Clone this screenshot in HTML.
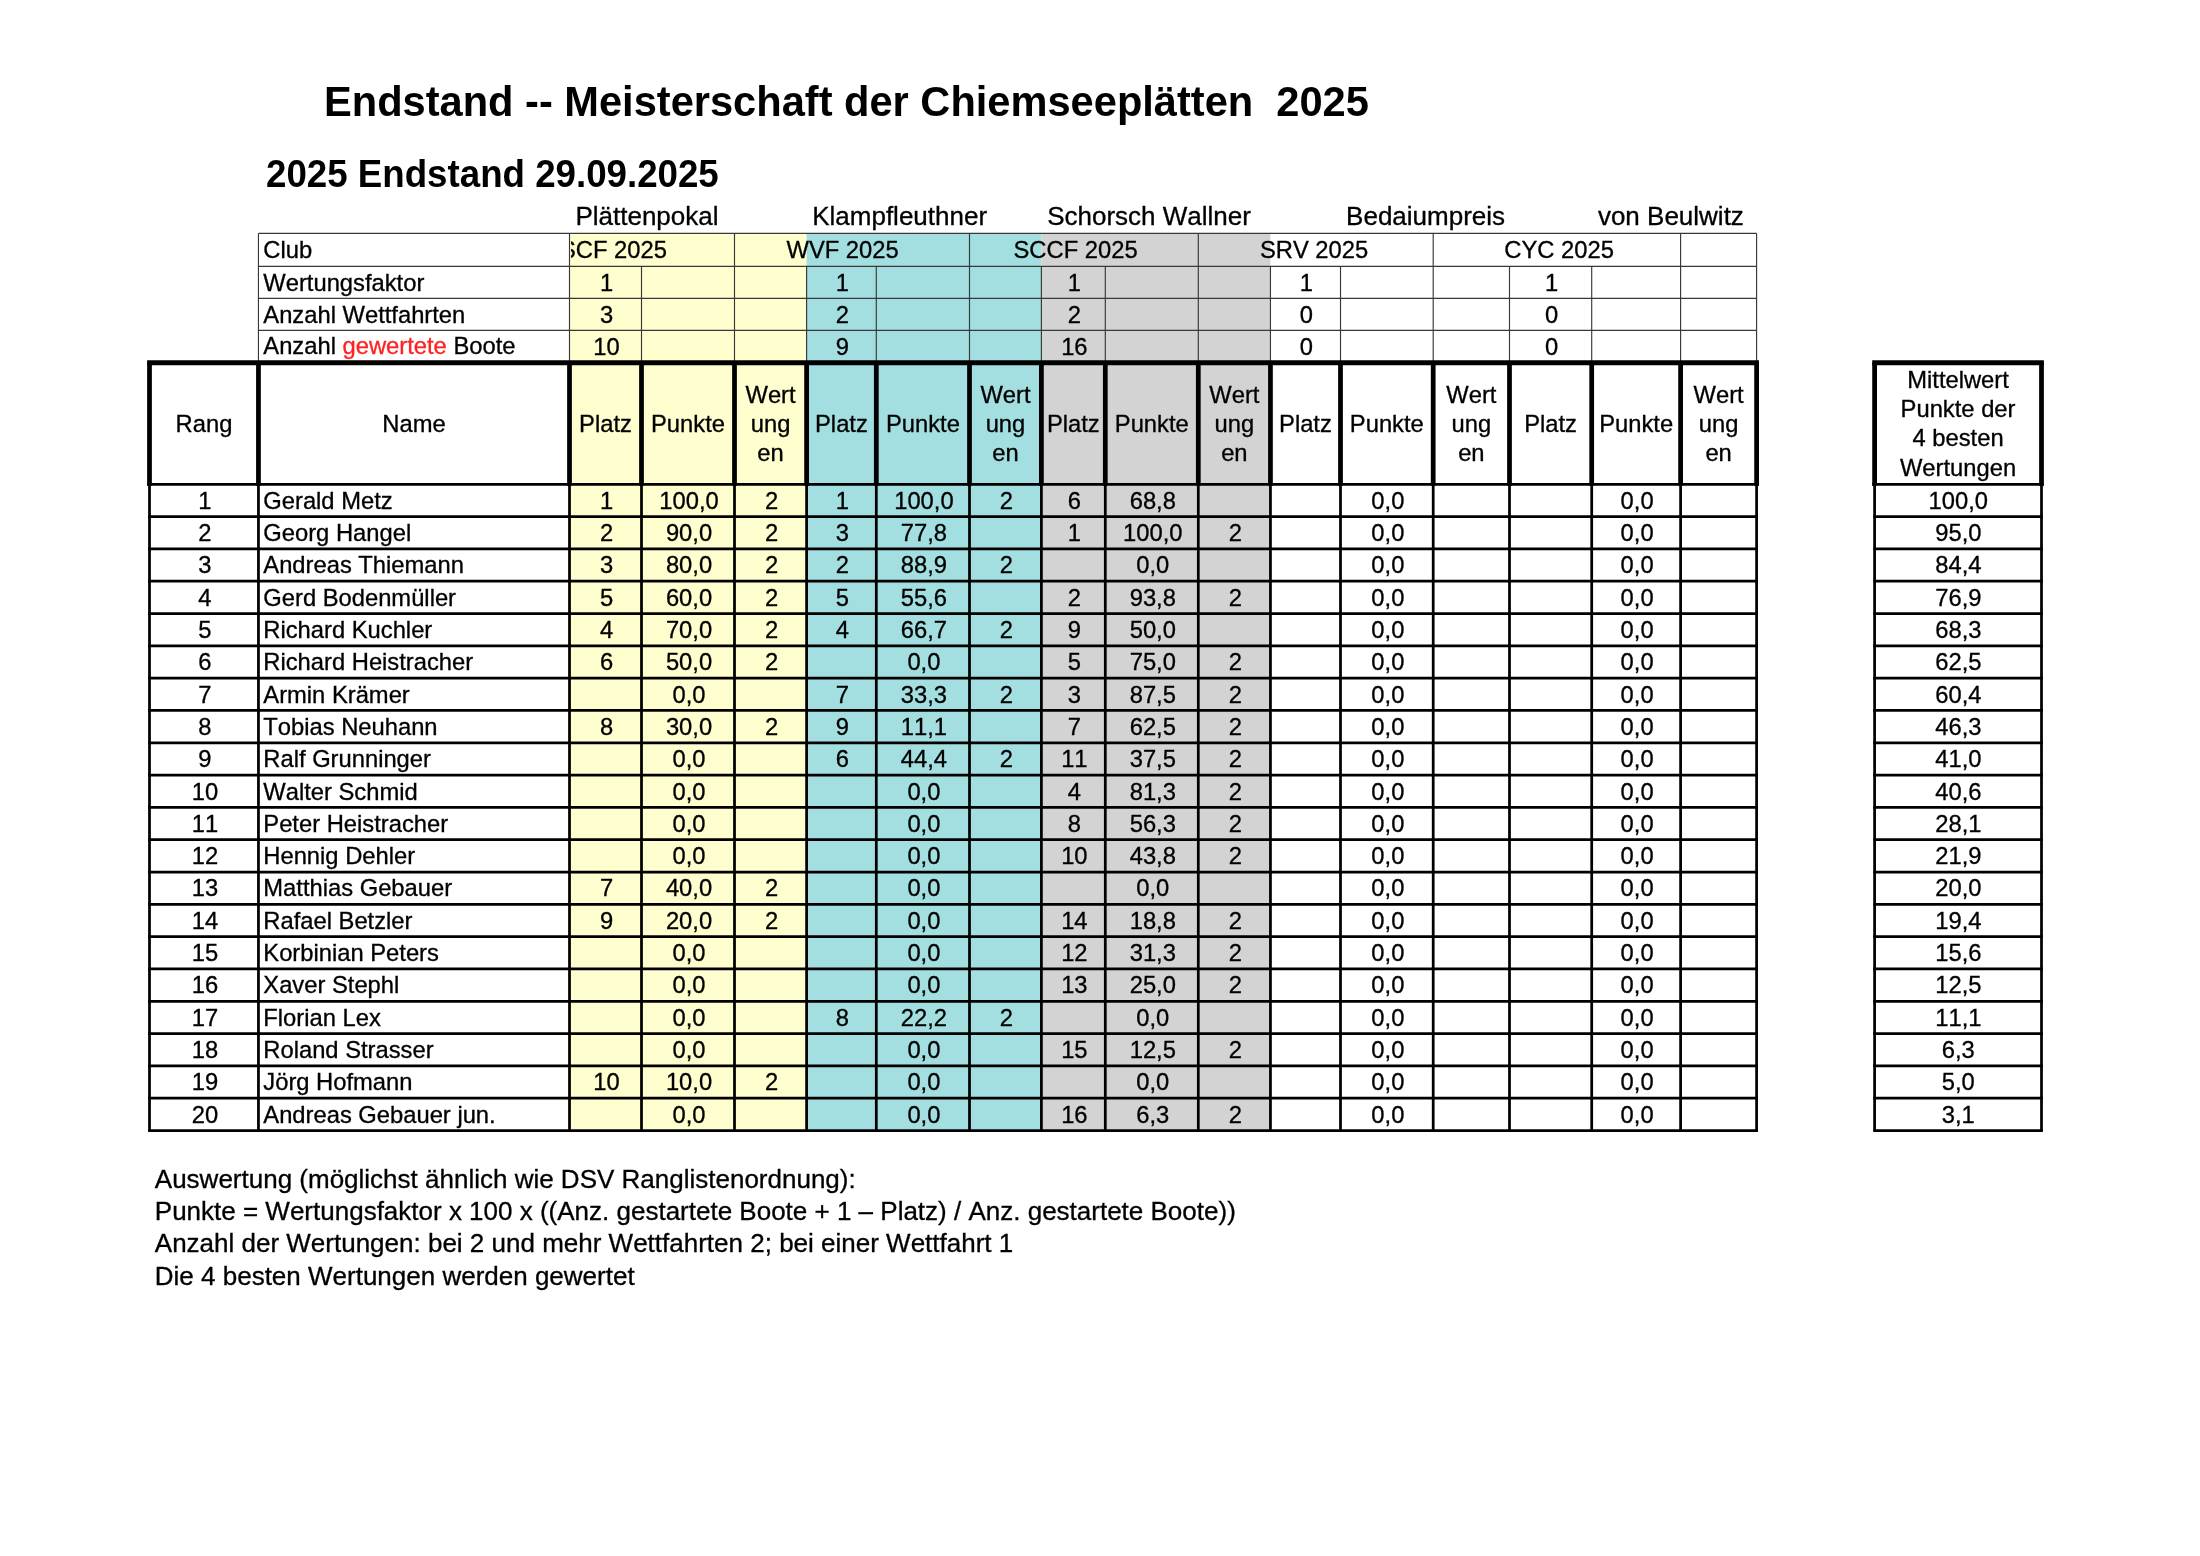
<!DOCTYPE html>
<html lang="de"><head><meta charset="utf-8"><title>Endstand Meisterschaft der Chiemseepl&auml;tten 2025</title>
<style>
html,body{margin:0;padding:0;background:#fff;}
body{width:2200px;height:1556px;position:relative;overflow:hidden;font-family:"Liberation Sans",sans-serif;color:#000;}
svg{position:absolute;left:0;top:0;}
.t{position:absolute;white-space:nowrap;font-kerning:none;-webkit-text-stroke:0.32px currentColor;}
#txt{position:absolute;left:0;top:0;width:2200px;height:1556px;will-change:transform;}
</style></head><body>
<svg width="2200" height="1556" viewBox="0 0 2200 1556">
<rect x="569.50" y="233.40" width="237.10" height="897.15" fill="#FFFECE"/>
<rect x="806.60" y="233.40" width="234.80" height="897.15" fill="#A3DFE0"/>
<rect x="1041.40" y="233.40" width="229.05" height="897.15" fill="#D3D3D3"/>
<line x1="258.45" y1="233.40" x2="1756.60" y2="233.40" stroke="#383838" stroke-width="1.15"/>
<line x1="258.45" y1="266.30" x2="1756.60" y2="266.30" stroke="#383838" stroke-width="1.15"/>
<line x1="258.45" y1="298.30" x2="1756.60" y2="298.30" stroke="#383838" stroke-width="1.15"/>
<line x1="258.45" y1="330.40" x2="1756.60" y2="330.40" stroke="#383838" stroke-width="1.15"/>
<line x1="258.45" y1="233.40" x2="258.45" y2="362.75" stroke="#383838" stroke-width="1.15"/>
<line x1="569.50" y1="233.40" x2="569.50" y2="362.75" stroke="#383838" stroke-width="1.15"/>
<line x1="641.50" y1="266.30" x2="641.50" y2="362.75" stroke="#383838" stroke-width="1.15"/>
<line x1="734.50" y1="233.40" x2="734.50" y2="362.75" stroke="#383838" stroke-width="1.15"/>
<line x1="806.60" y1="266.30" x2="806.60" y2="362.75" stroke="#383838" stroke-width="1.15"/>
<line x1="876.30" y1="266.30" x2="876.30" y2="362.75" stroke="#383838" stroke-width="1.15"/>
<line x1="969.50" y1="233.40" x2="969.50" y2="362.75" stroke="#383838" stroke-width="1.15"/>
<line x1="1041.40" y1="266.30" x2="1041.40" y2="362.75" stroke="#383838" stroke-width="1.15"/>
<line x1="1105.30" y1="266.30" x2="1105.30" y2="362.75" stroke="#383838" stroke-width="1.15"/>
<line x1="1198.30" y1="233.40" x2="1198.30" y2="362.75" stroke="#383838" stroke-width="1.15"/>
<line x1="1270.45" y1="266.30" x2="1270.45" y2="362.75" stroke="#383838" stroke-width="1.15"/>
<line x1="1340.50" y1="266.30" x2="1340.50" y2="362.75" stroke="#383838" stroke-width="1.15"/>
<line x1="1433.20" y1="233.40" x2="1433.20" y2="362.75" stroke="#383838" stroke-width="1.15"/>
<line x1="1509.50" y1="266.30" x2="1509.50" y2="362.75" stroke="#383838" stroke-width="1.15"/>
<line x1="1591.70" y1="266.30" x2="1591.70" y2="362.75" stroke="#383838" stroke-width="1.15"/>
<line x1="1680.60" y1="233.40" x2="1680.60" y2="362.75" stroke="#383838" stroke-width="1.15"/>
<line x1="1756.60" y1="233.40" x2="1756.60" y2="362.75" stroke="#383838" stroke-width="1.15"/>
<line x1="148.12" y1="516.60" x2="1757.97" y2="516.60" stroke="#000" stroke-width="2.75"/>
<line x1="1873.22" y1="516.60" x2="2042.88" y2="516.60" stroke="#000" stroke-width="2.75"/>
<line x1="148.12" y1="548.92" x2="1757.97" y2="548.92" stroke="#000" stroke-width="2.75"/>
<line x1="1873.22" y1="548.92" x2="2042.88" y2="548.92" stroke="#000" stroke-width="2.75"/>
<line x1="148.12" y1="581.23" x2="1757.97" y2="581.23" stroke="#000" stroke-width="2.75"/>
<line x1="1873.22" y1="581.23" x2="2042.88" y2="581.23" stroke="#000" stroke-width="2.75"/>
<line x1="148.12" y1="613.54" x2="1757.97" y2="613.54" stroke="#000" stroke-width="2.75"/>
<line x1="1873.22" y1="613.54" x2="2042.88" y2="613.54" stroke="#000" stroke-width="2.75"/>
<line x1="148.12" y1="645.86" x2="1757.97" y2="645.86" stroke="#000" stroke-width="2.75"/>
<line x1="1873.22" y1="645.86" x2="2042.88" y2="645.86" stroke="#000" stroke-width="2.75"/>
<line x1="148.12" y1="678.17" x2="1757.97" y2="678.17" stroke="#000" stroke-width="2.75"/>
<line x1="1873.22" y1="678.17" x2="2042.88" y2="678.17" stroke="#000" stroke-width="2.75"/>
<line x1="148.12" y1="710.48" x2="1757.97" y2="710.48" stroke="#000" stroke-width="2.75"/>
<line x1="1873.22" y1="710.48" x2="2042.88" y2="710.48" stroke="#000" stroke-width="2.75"/>
<line x1="148.12" y1="742.79" x2="1757.97" y2="742.79" stroke="#000" stroke-width="2.75"/>
<line x1="1873.22" y1="742.79" x2="2042.88" y2="742.79" stroke="#000" stroke-width="2.75"/>
<line x1="148.12" y1="775.11" x2="1757.97" y2="775.11" stroke="#000" stroke-width="2.75"/>
<line x1="1873.22" y1="775.11" x2="2042.88" y2="775.11" stroke="#000" stroke-width="2.75"/>
<line x1="148.12" y1="807.42" x2="1757.97" y2="807.42" stroke="#000" stroke-width="2.75"/>
<line x1="1873.22" y1="807.42" x2="2042.88" y2="807.42" stroke="#000" stroke-width="2.75"/>
<line x1="148.12" y1="839.73" x2="1757.97" y2="839.73" stroke="#000" stroke-width="2.75"/>
<line x1="1873.22" y1="839.73" x2="2042.88" y2="839.73" stroke="#000" stroke-width="2.75"/>
<line x1="148.12" y1="872.05" x2="1757.97" y2="872.05" stroke="#000" stroke-width="2.75"/>
<line x1="1873.22" y1="872.05" x2="2042.88" y2="872.05" stroke="#000" stroke-width="2.75"/>
<line x1="148.12" y1="904.36" x2="1757.97" y2="904.36" stroke="#000" stroke-width="2.75"/>
<line x1="1873.22" y1="904.36" x2="2042.88" y2="904.36" stroke="#000" stroke-width="2.75"/>
<line x1="148.12" y1="936.67" x2="1757.97" y2="936.67" stroke="#000" stroke-width="2.75"/>
<line x1="1873.22" y1="936.67" x2="2042.88" y2="936.67" stroke="#000" stroke-width="2.75"/>
<line x1="148.12" y1="968.99" x2="1757.97" y2="968.99" stroke="#000" stroke-width="2.75"/>
<line x1="1873.22" y1="968.99" x2="2042.88" y2="968.99" stroke="#000" stroke-width="2.75"/>
<line x1="148.12" y1="1001.30" x2="1757.97" y2="1001.30" stroke="#000" stroke-width="2.75"/>
<line x1="1873.22" y1="1001.30" x2="2042.88" y2="1001.30" stroke="#000" stroke-width="2.75"/>
<line x1="148.12" y1="1033.61" x2="1757.97" y2="1033.61" stroke="#000" stroke-width="2.75"/>
<line x1="1873.22" y1="1033.61" x2="2042.88" y2="1033.61" stroke="#000" stroke-width="2.75"/>
<line x1="148.12" y1="1065.92" x2="1757.97" y2="1065.92" stroke="#000" stroke-width="2.75"/>
<line x1="1873.22" y1="1065.92" x2="2042.88" y2="1065.92" stroke="#000" stroke-width="2.75"/>
<line x1="148.12" y1="1098.24" x2="1757.97" y2="1098.24" stroke="#000" stroke-width="2.75"/>
<line x1="1873.22" y1="1098.24" x2="2042.88" y2="1098.24" stroke="#000" stroke-width="2.75"/>
<line x1="148.12" y1="1130.55" x2="1757.97" y2="1130.55" stroke="#000" stroke-width="2.75"/>
<line x1="1873.22" y1="1130.55" x2="2042.88" y2="1130.55" stroke="#000" stroke-width="2.75"/>
<line x1="149.50" y1="484.29" x2="149.50" y2="1130.55" stroke="#000" stroke-width="2.75"/>
<line x1="258.45" y1="484.29" x2="258.45" y2="1130.55" stroke="#000" stroke-width="2.75"/>
<line x1="569.50" y1="484.29" x2="569.50" y2="1130.55" stroke="#000" stroke-width="2.75"/>
<line x1="641.50" y1="484.29" x2="641.50" y2="1130.55" stroke="#000" stroke-width="2.75"/>
<line x1="734.50" y1="484.29" x2="734.50" y2="1130.55" stroke="#000" stroke-width="2.75"/>
<line x1="806.60" y1="484.29" x2="806.60" y2="1130.55" stroke="#000" stroke-width="2.75"/>
<line x1="876.30" y1="484.29" x2="876.30" y2="1130.55" stroke="#000" stroke-width="2.75"/>
<line x1="969.50" y1="484.29" x2="969.50" y2="1130.55" stroke="#000" stroke-width="2.75"/>
<line x1="1041.40" y1="484.29" x2="1041.40" y2="1130.55" stroke="#000" stroke-width="2.75"/>
<line x1="1105.30" y1="484.29" x2="1105.30" y2="1130.55" stroke="#000" stroke-width="2.75"/>
<line x1="1198.30" y1="484.29" x2="1198.30" y2="1130.55" stroke="#000" stroke-width="2.75"/>
<line x1="1270.45" y1="484.29" x2="1270.45" y2="1130.55" stroke="#000" stroke-width="2.75"/>
<line x1="1340.50" y1="484.29" x2="1340.50" y2="1130.55" stroke="#000" stroke-width="2.75"/>
<line x1="1433.20" y1="484.29" x2="1433.20" y2="1130.55" stroke="#000" stroke-width="2.75"/>
<line x1="1509.50" y1="484.29" x2="1509.50" y2="1130.55" stroke="#000" stroke-width="2.75"/>
<line x1="1591.70" y1="484.29" x2="1591.70" y2="1130.55" stroke="#000" stroke-width="2.75"/>
<line x1="1680.60" y1="484.29" x2="1680.60" y2="1130.55" stroke="#000" stroke-width="2.75"/>
<line x1="1756.60" y1="484.29" x2="1756.60" y2="1130.55" stroke="#000" stroke-width="2.75"/>
<line x1="1874.60" y1="484.29" x2="1874.60" y2="1130.55" stroke="#000" stroke-width="2.75"/>
<line x1="2041.50" y1="484.29" x2="2041.50" y2="1130.55" stroke="#000" stroke-width="2.75"/>
<line x1="147.10" y1="484.29" x2="1759.00" y2="484.29" stroke="#000" stroke-width="2.75"/>
<line x1="1872.20" y1="484.29" x2="2043.90" y2="484.29" stroke="#000" stroke-width="2.75"/>
<line x1="147.12" y1="362.75" x2="1758.97" y2="362.75" stroke="#000" stroke-width="5.2"/>
<line x1="1872.22" y1="362.75" x2="2043.88" y2="362.75" stroke="#000" stroke-width="5.2"/>
<line x1="149.50" y1="362.75" x2="149.50" y2="485.67" stroke="#000" stroke-width="4.75"/>
<line x1="258.45" y1="362.75" x2="258.45" y2="485.67" stroke="#000" stroke-width="4.75"/>
<line x1="569.50" y1="362.75" x2="569.50" y2="485.67" stroke="#000" stroke-width="4.75"/>
<line x1="641.50" y1="362.75" x2="641.50" y2="485.67" stroke="#000" stroke-width="4.75"/>
<line x1="734.50" y1="362.75" x2="734.50" y2="485.67" stroke="#000" stroke-width="4.75"/>
<line x1="806.60" y1="362.75" x2="806.60" y2="485.67" stroke="#000" stroke-width="4.75"/>
<line x1="876.30" y1="362.75" x2="876.30" y2="485.67" stroke="#000" stroke-width="4.75"/>
<line x1="969.50" y1="362.75" x2="969.50" y2="485.67" stroke="#000" stroke-width="4.75"/>
<line x1="1041.40" y1="362.75" x2="1041.40" y2="485.67" stroke="#000" stroke-width="4.75"/>
<line x1="1105.30" y1="362.75" x2="1105.30" y2="485.67" stroke="#000" stroke-width="4.75"/>
<line x1="1198.30" y1="362.75" x2="1198.30" y2="485.67" stroke="#000" stroke-width="4.75"/>
<line x1="1270.45" y1="362.75" x2="1270.45" y2="485.67" stroke="#000" stroke-width="4.75"/>
<line x1="1340.50" y1="362.75" x2="1340.50" y2="485.67" stroke="#000" stroke-width="4.75"/>
<line x1="1433.20" y1="362.75" x2="1433.20" y2="485.67" stroke="#000" stroke-width="4.75"/>
<line x1="1509.50" y1="362.75" x2="1509.50" y2="485.67" stroke="#000" stroke-width="4.75"/>
<line x1="1591.70" y1="362.75" x2="1591.70" y2="485.67" stroke="#000" stroke-width="4.75"/>
<line x1="1680.60" y1="362.75" x2="1680.60" y2="485.67" stroke="#000" stroke-width="4.75"/>
<line x1="1756.60" y1="362.75" x2="1756.60" y2="485.67" stroke="#000" stroke-width="4.75"/>
<line x1="1874.60" y1="362.75" x2="1874.60" y2="485.67" stroke="#000" stroke-width="4.75"/>
<line x1="2041.50" y1="362.75" x2="2041.50" y2="485.67" stroke="#000" stroke-width="4.75"/>
</svg>
<div id="txt">
<div class="t" style="top:73px;font-size:43.0px;line-height:56px;left:324.20px;font-weight:bold;transform:scaleX(0.9674);transform-origin:0 0;-webkit-text-stroke:0;">Endstand -- Meisterschaft der Chiemseepl&auml;tten&nbsp; 2025</div>
<div class="t" style="top:150px;font-size:37.9px;line-height:49px;left:265.90px;font-weight:bold;transform:scaleX(0.9683);transform-origin:0 0;-webkit-text-stroke:0;">2025 Endstand 29.09.2025</div>
<div class="t" style="top:199px;font-size:26.0px;line-height:34px;left:575.40px;">Pl&auml;ttenpokal</div>
<div class="t" style="top:199px;font-size:26.0px;line-height:34px;left:812.20px;">Klampfleuthner</div>
<div class="t" style="top:199px;font-size:26.0px;line-height:34px;left:1047.20px;">Schorsch Wallner</div>
<div class="t" style="top:199px;font-size:26.0px;line-height:34px;left:1346.10px;">Bedaiumpreis</div>
<div class="t" style="top:199px;font-size:26.0px;line-height:34px;left:1597.90px;">von Beulwitz</div>
<div class="t" style="top:234px;font-size:23.75px;line-height:31px;left:263.30px;">Club</div>
<div class="t" style="top:267px;font-size:23.75px;line-height:31px;left:263.30px;">Wertungsfaktor</div>
<div class="t" style="top:299px;font-size:23.75px;line-height:31px;left:263.30px;">Anzahl Wettfahrten</div>
<div class="t" style="top:330px;font-size:23.75px;line-height:31px;left:263.30px;">Anzahl <span style="color:#ff2222">gewertete</span> Boote</div>
<div class="t" style="top:234px;font-size:23.75px;line-height:31px;left:786.50px;">WVF 2025</div>
<div class="t" style="top:234px;font-size:23.75px;line-height:31px;left:1013.50px;">SCCF 2025</div>
<div class="t" style="top:234px;font-size:23.75px;line-height:31px;left:1259.90px;">SRV 2025</div>
<div class="t" style="top:234px;font-size:23.75px;line-height:31px;left:1504.30px;">CYC 2025</div>
<div class="t" style="left:570.80px;top:234px;width:96.10px;height:31px;overflow:hidden;font-size:23.75px;line-height:31px;"><span style="position:absolute;right:0;top:0;">SCF 2025</span></div>
<div class="t" style="top:267px;font-size:23.75px;line-height:31px;left:570.50px;width:72.00px;text-align:center;">1</div>
<div class="t" style="top:299px;font-size:23.75px;line-height:31px;left:570.50px;width:72.00px;text-align:center;">3</div>
<div class="t" style="top:331px;font-size:23.75px;line-height:31px;left:570.50px;width:72.00px;text-align:center;">10</div>
<div class="t" style="top:267px;font-size:23.75px;line-height:31px;left:807.60px;width:69.70px;text-align:center;">1</div>
<div class="t" style="top:299px;font-size:23.75px;line-height:31px;left:807.60px;width:69.70px;text-align:center;">2</div>
<div class="t" style="top:331px;font-size:23.75px;line-height:31px;left:807.60px;width:69.70px;text-align:center;">9</div>
<div class="t" style="top:267px;font-size:23.75px;line-height:31px;left:1042.40px;width:63.90px;text-align:center;">1</div>
<div class="t" style="top:299px;font-size:23.75px;line-height:31px;left:1042.40px;width:63.90px;text-align:center;">2</div>
<div class="t" style="top:331px;font-size:23.75px;line-height:31px;left:1042.40px;width:63.90px;text-align:center;">16</div>
<div class="t" style="top:267px;font-size:23.75px;line-height:31px;left:1271.45px;width:70.05px;text-align:center;">1</div>
<div class="t" style="top:299px;font-size:23.75px;line-height:31px;left:1271.45px;width:70.05px;text-align:center;">0</div>
<div class="t" style="top:331px;font-size:23.75px;line-height:31px;left:1271.45px;width:70.05px;text-align:center;">0</div>
<div class="t" style="top:267px;font-size:23.75px;line-height:31px;left:1510.50px;width:82.20px;text-align:center;">1</div>
<div class="t" style="top:299px;font-size:23.75px;line-height:31px;left:1510.50px;width:82.20px;text-align:center;">0</div>
<div class="t" style="top:331px;font-size:23.75px;line-height:31px;left:1510.50px;width:82.20px;text-align:center;">0</div>
<div class="t" style="top:408px;font-size:23.75px;line-height:31px;left:149.50px;width:108.95px;text-align:center;">Rang</div>
<div class="t" style="top:408px;font-size:23.75px;line-height:31px;left:258.45px;width:311.05px;text-align:center;">Name</div>
<div class="t" style="top:408px;font-size:23.75px;line-height:31px;left:559.50px;width:92.00px;text-align:center;">Platz</div>
<div class="t" style="top:408px;font-size:23.75px;line-height:31px;left:631.50px;width:113.00px;text-align:center;">Punkte</div>
<div class="t" style="top:379px;font-size:23.75px;line-height:31px;left:734.50px;width:72.10px;text-align:center;">Wert</div>
<div class="t" style="top:408px;font-size:23.75px;line-height:31px;left:734.50px;width:72.10px;text-align:center;">ung</div>
<div class="t" style="top:437px;font-size:23.75px;line-height:31px;left:734.50px;width:72.10px;text-align:center;">en</div>
<div class="t" style="top:408px;font-size:23.75px;line-height:31px;left:796.60px;width:89.70px;text-align:center;">Platz</div>
<div class="t" style="top:408px;font-size:23.75px;line-height:31px;left:866.30px;width:113.20px;text-align:center;">Punkte</div>
<div class="t" style="top:379px;font-size:23.75px;line-height:31px;left:969.50px;width:71.90px;text-align:center;">Wert</div>
<div class="t" style="top:408px;font-size:23.75px;line-height:31px;left:969.50px;width:71.90px;text-align:center;">ung</div>
<div class="t" style="top:437px;font-size:23.75px;line-height:31px;left:969.50px;width:71.90px;text-align:center;">en</div>
<div class="t" style="top:408px;font-size:23.75px;line-height:31px;left:1031.40px;width:83.90px;text-align:center;">Platz</div>
<div class="t" style="top:408px;font-size:23.75px;line-height:31px;left:1095.30px;width:113.00px;text-align:center;">Punkte</div>
<div class="t" style="top:379px;font-size:23.75px;line-height:31px;left:1198.30px;width:72.15px;text-align:center;">Wert</div>
<div class="t" style="top:408px;font-size:23.75px;line-height:31px;left:1198.30px;width:72.15px;text-align:center;">ung</div>
<div class="t" style="top:437px;font-size:23.75px;line-height:31px;left:1198.30px;width:72.15px;text-align:center;">en</div>
<div class="t" style="top:408px;font-size:23.75px;line-height:31px;left:1260.45px;width:90.05px;text-align:center;">Platz</div>
<div class="t" style="top:408px;font-size:23.75px;line-height:31px;left:1330.50px;width:112.70px;text-align:center;">Punkte</div>
<div class="t" style="top:379px;font-size:23.75px;line-height:31px;left:1433.20px;width:76.30px;text-align:center;">Wert</div>
<div class="t" style="top:408px;font-size:23.75px;line-height:31px;left:1433.20px;width:76.30px;text-align:center;">ung</div>
<div class="t" style="top:437px;font-size:23.75px;line-height:31px;left:1433.20px;width:76.30px;text-align:center;">en</div>
<div class="t" style="top:408px;font-size:23.75px;line-height:31px;left:1499.50px;width:102.20px;text-align:center;">Platz</div>
<div class="t" style="top:408px;font-size:23.75px;line-height:31px;left:1581.70px;width:108.90px;text-align:center;">Punkte</div>
<div class="t" style="top:379px;font-size:23.75px;line-height:31px;left:1680.60px;width:76.00px;text-align:center;">Wert</div>
<div class="t" style="top:408px;font-size:23.75px;line-height:31px;left:1680.60px;width:76.00px;text-align:center;">ung</div>
<div class="t" style="top:437px;font-size:23.75px;line-height:31px;left:1680.60px;width:76.00px;text-align:center;">en</div>
<div class="t" style="top:364px;font-size:23.75px;line-height:31px;left:1874.60px;width:166.90px;text-align:center;">Mittelwert</div>
<div class="t" style="top:393px;font-size:23.75px;line-height:31px;left:1874.60px;width:166.90px;text-align:center;">Punkte der</div>
<div class="t" style="top:422px;font-size:23.75px;line-height:31px;left:1874.60px;width:166.90px;text-align:center;">4 besten</div>
<div class="t" style="top:452px;font-size:23.75px;line-height:31px;left:1874.60px;width:166.90px;text-align:center;">Wertungen</div>
<div class="t" style="top:485px;font-size:23.75px;line-height:31px;left:150.50px;width:108.95px;text-align:center;">1</div>
<div class="t" style="top:485px;font-size:23.75px;line-height:31px;left:263.30px;">Gerald Metz</div>
<div class="t" style="top:485px;font-size:23.75px;line-height:31px;left:570.50px;width:72.00px;text-align:center;">1</div>
<div class="t" style="top:485px;font-size:23.75px;line-height:31px;left:642.50px;width:93.00px;text-align:center;">100,0</div>
<div class="t" style="top:485px;font-size:23.75px;line-height:31px;left:735.50px;width:72.10px;text-align:center;">2</div>
<div class="t" style="top:485px;font-size:23.75px;line-height:31px;left:807.60px;width:69.70px;text-align:center;">1</div>
<div class="t" style="top:485px;font-size:23.75px;line-height:31px;left:877.30px;width:93.20px;text-align:center;">100,0</div>
<div class="t" style="top:485px;font-size:23.75px;line-height:31px;left:970.50px;width:71.90px;text-align:center;">2</div>
<div class="t" style="top:485px;font-size:23.75px;line-height:31px;left:1042.40px;width:63.90px;text-align:center;">6</div>
<div class="t" style="top:485px;font-size:23.75px;line-height:31px;left:1106.30px;width:93.00px;text-align:center;">68,8</div>
<div class="t" style="top:485px;font-size:23.75px;line-height:31px;left:1341.50px;width:92.70px;text-align:center;">0,0</div>
<div class="t" style="top:485px;font-size:23.75px;line-height:31px;left:1592.70px;width:88.90px;text-align:center;">0,0</div>
<div class="t" style="top:485px;font-size:23.75px;line-height:31px;left:1874.90px;width:166.90px;text-align:center;">100,0</div>
<div class="t" style="top:517px;font-size:23.75px;line-height:31px;left:150.50px;width:108.95px;text-align:center;">2</div>
<div class="t" style="top:517px;font-size:23.75px;line-height:31px;left:263.30px;">Georg Hangel</div>
<div class="t" style="top:517px;font-size:23.75px;line-height:31px;left:570.50px;width:72.00px;text-align:center;">2</div>
<div class="t" style="top:517px;font-size:23.75px;line-height:31px;left:642.50px;width:93.00px;text-align:center;">90,0</div>
<div class="t" style="top:517px;font-size:23.75px;line-height:31px;left:735.50px;width:72.10px;text-align:center;">2</div>
<div class="t" style="top:517px;font-size:23.75px;line-height:31px;left:807.60px;width:69.70px;text-align:center;">3</div>
<div class="t" style="top:517px;font-size:23.75px;line-height:31px;left:877.30px;width:93.20px;text-align:center;">77,8</div>
<div class="t" style="top:517px;font-size:23.75px;line-height:31px;left:1042.40px;width:63.90px;text-align:center;">1</div>
<div class="t" style="top:517px;font-size:23.75px;line-height:31px;left:1106.30px;width:93.00px;text-align:center;">100,0</div>
<div class="t" style="top:517px;font-size:23.75px;line-height:31px;left:1199.30px;width:72.15px;text-align:center;">2</div>
<div class="t" style="top:517px;font-size:23.75px;line-height:31px;left:1341.50px;width:92.70px;text-align:center;">0,0</div>
<div class="t" style="top:517px;font-size:23.75px;line-height:31px;left:1592.70px;width:88.90px;text-align:center;">0,0</div>
<div class="t" style="top:517px;font-size:23.75px;line-height:31px;left:1874.90px;width:166.90px;text-align:center;">95,0</div>
<div class="t" style="top:549px;font-size:23.75px;line-height:31px;left:150.50px;width:108.95px;text-align:center;">3</div>
<div class="t" style="top:549px;font-size:23.75px;line-height:31px;left:263.30px;">Andreas Thiemann</div>
<div class="t" style="top:549px;font-size:23.75px;line-height:31px;left:570.50px;width:72.00px;text-align:center;">3</div>
<div class="t" style="top:549px;font-size:23.75px;line-height:31px;left:642.50px;width:93.00px;text-align:center;">80,0</div>
<div class="t" style="top:549px;font-size:23.75px;line-height:31px;left:735.50px;width:72.10px;text-align:center;">2</div>
<div class="t" style="top:549px;font-size:23.75px;line-height:31px;left:807.60px;width:69.70px;text-align:center;">2</div>
<div class="t" style="top:549px;font-size:23.75px;line-height:31px;left:877.30px;width:93.20px;text-align:center;">88,9</div>
<div class="t" style="top:549px;font-size:23.75px;line-height:31px;left:970.50px;width:71.90px;text-align:center;">2</div>
<div class="t" style="top:549px;font-size:23.75px;line-height:31px;left:1106.30px;width:93.00px;text-align:center;">0,0</div>
<div class="t" style="top:549px;font-size:23.75px;line-height:31px;left:1341.50px;width:92.70px;text-align:center;">0,0</div>
<div class="t" style="top:549px;font-size:23.75px;line-height:31px;left:1592.70px;width:88.90px;text-align:center;">0,0</div>
<div class="t" style="top:549px;font-size:23.75px;line-height:31px;left:1874.90px;width:166.90px;text-align:center;">84,4</div>
<div class="t" style="top:582px;font-size:23.75px;line-height:31px;left:150.50px;width:108.95px;text-align:center;">4</div>
<div class="t" style="top:582px;font-size:23.75px;line-height:31px;left:263.30px;">Gerd Bodenm&uuml;ller</div>
<div class="t" style="top:582px;font-size:23.75px;line-height:31px;left:570.50px;width:72.00px;text-align:center;">5</div>
<div class="t" style="top:582px;font-size:23.75px;line-height:31px;left:642.50px;width:93.00px;text-align:center;">60,0</div>
<div class="t" style="top:582px;font-size:23.75px;line-height:31px;left:735.50px;width:72.10px;text-align:center;">2</div>
<div class="t" style="top:582px;font-size:23.75px;line-height:31px;left:807.60px;width:69.70px;text-align:center;">5</div>
<div class="t" style="top:582px;font-size:23.75px;line-height:31px;left:877.30px;width:93.20px;text-align:center;">55,6</div>
<div class="t" style="top:582px;font-size:23.75px;line-height:31px;left:1042.40px;width:63.90px;text-align:center;">2</div>
<div class="t" style="top:582px;font-size:23.75px;line-height:31px;left:1106.30px;width:93.00px;text-align:center;">93,8</div>
<div class="t" style="top:582px;font-size:23.75px;line-height:31px;left:1199.30px;width:72.15px;text-align:center;">2</div>
<div class="t" style="top:582px;font-size:23.75px;line-height:31px;left:1341.50px;width:92.70px;text-align:center;">0,0</div>
<div class="t" style="top:582px;font-size:23.75px;line-height:31px;left:1592.70px;width:88.90px;text-align:center;">0,0</div>
<div class="t" style="top:582px;font-size:23.75px;line-height:31px;left:1874.90px;width:166.90px;text-align:center;">76,9</div>
<div class="t" style="top:614px;font-size:23.75px;line-height:31px;left:150.50px;width:108.95px;text-align:center;">5</div>
<div class="t" style="top:614px;font-size:23.75px;line-height:31px;left:263.30px;">Richard Kuchler</div>
<div class="t" style="top:614px;font-size:23.75px;line-height:31px;left:570.50px;width:72.00px;text-align:center;">4</div>
<div class="t" style="top:614px;font-size:23.75px;line-height:31px;left:642.50px;width:93.00px;text-align:center;">70,0</div>
<div class="t" style="top:614px;font-size:23.75px;line-height:31px;left:735.50px;width:72.10px;text-align:center;">2</div>
<div class="t" style="top:614px;font-size:23.75px;line-height:31px;left:807.60px;width:69.70px;text-align:center;">4</div>
<div class="t" style="top:614px;font-size:23.75px;line-height:31px;left:877.30px;width:93.20px;text-align:center;">66,7</div>
<div class="t" style="top:614px;font-size:23.75px;line-height:31px;left:970.50px;width:71.90px;text-align:center;">2</div>
<div class="t" style="top:614px;font-size:23.75px;line-height:31px;left:1042.40px;width:63.90px;text-align:center;">9</div>
<div class="t" style="top:614px;font-size:23.75px;line-height:31px;left:1106.30px;width:93.00px;text-align:center;">50,0</div>
<div class="t" style="top:614px;font-size:23.75px;line-height:31px;left:1341.50px;width:92.70px;text-align:center;">0,0</div>
<div class="t" style="top:614px;font-size:23.75px;line-height:31px;left:1592.70px;width:88.90px;text-align:center;">0,0</div>
<div class="t" style="top:614px;font-size:23.75px;line-height:31px;left:1874.90px;width:166.90px;text-align:center;">68,3</div>
<div class="t" style="top:646px;font-size:23.75px;line-height:31px;left:150.50px;width:108.95px;text-align:center;">6</div>
<div class="t" style="top:646px;font-size:23.75px;line-height:31px;left:263.30px;">Richard Heistracher</div>
<div class="t" style="top:646px;font-size:23.75px;line-height:31px;left:570.50px;width:72.00px;text-align:center;">6</div>
<div class="t" style="top:646px;font-size:23.75px;line-height:31px;left:642.50px;width:93.00px;text-align:center;">50,0</div>
<div class="t" style="top:646px;font-size:23.75px;line-height:31px;left:735.50px;width:72.10px;text-align:center;">2</div>
<div class="t" style="top:646px;font-size:23.75px;line-height:31px;left:877.30px;width:93.20px;text-align:center;">0,0</div>
<div class="t" style="top:646px;font-size:23.75px;line-height:31px;left:1042.40px;width:63.90px;text-align:center;">5</div>
<div class="t" style="top:646px;font-size:23.75px;line-height:31px;left:1106.30px;width:93.00px;text-align:center;">75,0</div>
<div class="t" style="top:646px;font-size:23.75px;line-height:31px;left:1199.30px;width:72.15px;text-align:center;">2</div>
<div class="t" style="top:646px;font-size:23.75px;line-height:31px;left:1341.50px;width:92.70px;text-align:center;">0,0</div>
<div class="t" style="top:646px;font-size:23.75px;line-height:31px;left:1592.70px;width:88.90px;text-align:center;">0,0</div>
<div class="t" style="top:646px;font-size:23.75px;line-height:31px;left:1874.90px;width:166.90px;text-align:center;">62,5</div>
<div class="t" style="top:679px;font-size:23.75px;line-height:31px;left:150.50px;width:108.95px;text-align:center;">7</div>
<div class="t" style="top:679px;font-size:23.75px;line-height:31px;left:263.30px;">Armin Kr&auml;mer</div>
<div class="t" style="top:679px;font-size:23.75px;line-height:31px;left:642.50px;width:93.00px;text-align:center;">0,0</div>
<div class="t" style="top:679px;font-size:23.75px;line-height:31px;left:807.60px;width:69.70px;text-align:center;">7</div>
<div class="t" style="top:679px;font-size:23.75px;line-height:31px;left:877.30px;width:93.20px;text-align:center;">33,3</div>
<div class="t" style="top:679px;font-size:23.75px;line-height:31px;left:970.50px;width:71.90px;text-align:center;">2</div>
<div class="t" style="top:679px;font-size:23.75px;line-height:31px;left:1042.40px;width:63.90px;text-align:center;">3</div>
<div class="t" style="top:679px;font-size:23.75px;line-height:31px;left:1106.30px;width:93.00px;text-align:center;">87,5</div>
<div class="t" style="top:679px;font-size:23.75px;line-height:31px;left:1199.30px;width:72.15px;text-align:center;">2</div>
<div class="t" style="top:679px;font-size:23.75px;line-height:31px;left:1341.50px;width:92.70px;text-align:center;">0,0</div>
<div class="t" style="top:679px;font-size:23.75px;line-height:31px;left:1592.70px;width:88.90px;text-align:center;">0,0</div>
<div class="t" style="top:679px;font-size:23.75px;line-height:31px;left:1874.90px;width:166.90px;text-align:center;">60,4</div>
<div class="t" style="top:711px;font-size:23.75px;line-height:31px;left:150.50px;width:108.95px;text-align:center;">8</div>
<div class="t" style="top:711px;font-size:23.75px;line-height:31px;left:263.30px;">Tobias Neuhann</div>
<div class="t" style="top:711px;font-size:23.75px;line-height:31px;left:570.50px;width:72.00px;text-align:center;">8</div>
<div class="t" style="top:711px;font-size:23.75px;line-height:31px;left:642.50px;width:93.00px;text-align:center;">30,0</div>
<div class="t" style="top:711px;font-size:23.75px;line-height:31px;left:735.50px;width:72.10px;text-align:center;">2</div>
<div class="t" style="top:711px;font-size:23.75px;line-height:31px;left:807.60px;width:69.70px;text-align:center;">9</div>
<div class="t" style="top:711px;font-size:23.75px;line-height:31px;left:877.30px;width:93.20px;text-align:center;">11,1</div>
<div class="t" style="top:711px;font-size:23.75px;line-height:31px;left:1042.40px;width:63.90px;text-align:center;">7</div>
<div class="t" style="top:711px;font-size:23.75px;line-height:31px;left:1106.30px;width:93.00px;text-align:center;">62,5</div>
<div class="t" style="top:711px;font-size:23.75px;line-height:31px;left:1199.30px;width:72.15px;text-align:center;">2</div>
<div class="t" style="top:711px;font-size:23.75px;line-height:31px;left:1341.50px;width:92.70px;text-align:center;">0,0</div>
<div class="t" style="top:711px;font-size:23.75px;line-height:31px;left:1592.70px;width:88.90px;text-align:center;">0,0</div>
<div class="t" style="top:711px;font-size:23.75px;line-height:31px;left:1874.90px;width:166.90px;text-align:center;">46,3</div>
<div class="t" style="top:743px;font-size:23.75px;line-height:31px;left:150.50px;width:108.95px;text-align:center;">9</div>
<div class="t" style="top:743px;font-size:23.75px;line-height:31px;left:263.30px;">Ralf Grunninger</div>
<div class="t" style="top:743px;font-size:23.75px;line-height:31px;left:642.50px;width:93.00px;text-align:center;">0,0</div>
<div class="t" style="top:743px;font-size:23.75px;line-height:31px;left:807.60px;width:69.70px;text-align:center;">6</div>
<div class="t" style="top:743px;font-size:23.75px;line-height:31px;left:877.30px;width:93.20px;text-align:center;">44,4</div>
<div class="t" style="top:743px;font-size:23.75px;line-height:31px;left:970.50px;width:71.90px;text-align:center;">2</div>
<div class="t" style="top:743px;font-size:23.75px;line-height:31px;left:1042.40px;width:63.90px;text-align:center;">11</div>
<div class="t" style="top:743px;font-size:23.75px;line-height:31px;left:1106.30px;width:93.00px;text-align:center;">37,5</div>
<div class="t" style="top:743px;font-size:23.75px;line-height:31px;left:1199.30px;width:72.15px;text-align:center;">2</div>
<div class="t" style="top:743px;font-size:23.75px;line-height:31px;left:1341.50px;width:92.70px;text-align:center;">0,0</div>
<div class="t" style="top:743px;font-size:23.75px;line-height:31px;left:1592.70px;width:88.90px;text-align:center;">0,0</div>
<div class="t" style="top:743px;font-size:23.75px;line-height:31px;left:1874.90px;width:166.90px;text-align:center;">41,0</div>
<div class="t" style="top:776px;font-size:23.75px;line-height:31px;left:150.50px;width:108.95px;text-align:center;">10</div>
<div class="t" style="top:776px;font-size:23.75px;line-height:31px;left:263.30px;">Walter Schmid</div>
<div class="t" style="top:776px;font-size:23.75px;line-height:31px;left:642.50px;width:93.00px;text-align:center;">0,0</div>
<div class="t" style="top:776px;font-size:23.75px;line-height:31px;left:877.30px;width:93.20px;text-align:center;">0,0</div>
<div class="t" style="top:776px;font-size:23.75px;line-height:31px;left:1042.40px;width:63.90px;text-align:center;">4</div>
<div class="t" style="top:776px;font-size:23.75px;line-height:31px;left:1106.30px;width:93.00px;text-align:center;">81,3</div>
<div class="t" style="top:776px;font-size:23.75px;line-height:31px;left:1199.30px;width:72.15px;text-align:center;">2</div>
<div class="t" style="top:776px;font-size:23.75px;line-height:31px;left:1341.50px;width:92.70px;text-align:center;">0,0</div>
<div class="t" style="top:776px;font-size:23.75px;line-height:31px;left:1592.70px;width:88.90px;text-align:center;">0,0</div>
<div class="t" style="top:776px;font-size:23.75px;line-height:31px;left:1874.90px;width:166.90px;text-align:center;">40,6</div>
<div class="t" style="top:808px;font-size:23.75px;line-height:31px;left:150.50px;width:108.95px;text-align:center;">11</div>
<div class="t" style="top:808px;font-size:23.75px;line-height:31px;left:263.30px;">Peter Heistracher</div>
<div class="t" style="top:808px;font-size:23.75px;line-height:31px;left:642.50px;width:93.00px;text-align:center;">0,0</div>
<div class="t" style="top:808px;font-size:23.75px;line-height:31px;left:877.30px;width:93.20px;text-align:center;">0,0</div>
<div class="t" style="top:808px;font-size:23.75px;line-height:31px;left:1042.40px;width:63.90px;text-align:center;">8</div>
<div class="t" style="top:808px;font-size:23.75px;line-height:31px;left:1106.30px;width:93.00px;text-align:center;">56,3</div>
<div class="t" style="top:808px;font-size:23.75px;line-height:31px;left:1199.30px;width:72.15px;text-align:center;">2</div>
<div class="t" style="top:808px;font-size:23.75px;line-height:31px;left:1341.50px;width:92.70px;text-align:center;">0,0</div>
<div class="t" style="top:808px;font-size:23.75px;line-height:31px;left:1592.70px;width:88.90px;text-align:center;">0,0</div>
<div class="t" style="top:808px;font-size:23.75px;line-height:31px;left:1874.90px;width:166.90px;text-align:center;">28,1</div>
<div class="t" style="top:840px;font-size:23.75px;line-height:31px;left:150.50px;width:108.95px;text-align:center;">12</div>
<div class="t" style="top:840px;font-size:23.75px;line-height:31px;left:263.30px;">Hennig Dehler</div>
<div class="t" style="top:840px;font-size:23.75px;line-height:31px;left:642.50px;width:93.00px;text-align:center;">0,0</div>
<div class="t" style="top:840px;font-size:23.75px;line-height:31px;left:877.30px;width:93.20px;text-align:center;">0,0</div>
<div class="t" style="top:840px;font-size:23.75px;line-height:31px;left:1042.40px;width:63.90px;text-align:center;">10</div>
<div class="t" style="top:840px;font-size:23.75px;line-height:31px;left:1106.30px;width:93.00px;text-align:center;">43,8</div>
<div class="t" style="top:840px;font-size:23.75px;line-height:31px;left:1199.30px;width:72.15px;text-align:center;">2</div>
<div class="t" style="top:840px;font-size:23.75px;line-height:31px;left:1341.50px;width:92.70px;text-align:center;">0,0</div>
<div class="t" style="top:840px;font-size:23.75px;line-height:31px;left:1592.70px;width:88.90px;text-align:center;">0,0</div>
<div class="t" style="top:840px;font-size:23.75px;line-height:31px;left:1874.90px;width:166.90px;text-align:center;">21,9</div>
<div class="t" style="top:872px;font-size:23.75px;line-height:31px;left:150.50px;width:108.95px;text-align:center;">13</div>
<div class="t" style="top:872px;font-size:23.75px;line-height:31px;left:263.30px;">Matthias Gebauer</div>
<div class="t" style="top:872px;font-size:23.75px;line-height:31px;left:570.50px;width:72.00px;text-align:center;">7</div>
<div class="t" style="top:872px;font-size:23.75px;line-height:31px;left:642.50px;width:93.00px;text-align:center;">40,0</div>
<div class="t" style="top:872px;font-size:23.75px;line-height:31px;left:735.50px;width:72.10px;text-align:center;">2</div>
<div class="t" style="top:872px;font-size:23.75px;line-height:31px;left:877.30px;width:93.20px;text-align:center;">0,0</div>
<div class="t" style="top:872px;font-size:23.75px;line-height:31px;left:1106.30px;width:93.00px;text-align:center;">0,0</div>
<div class="t" style="top:872px;font-size:23.75px;line-height:31px;left:1341.50px;width:92.70px;text-align:center;">0,0</div>
<div class="t" style="top:872px;font-size:23.75px;line-height:31px;left:1592.70px;width:88.90px;text-align:center;">0,0</div>
<div class="t" style="top:872px;font-size:23.75px;line-height:31px;left:1874.90px;width:166.90px;text-align:center;">20,0</div>
<div class="t" style="top:905px;font-size:23.75px;line-height:31px;left:150.50px;width:108.95px;text-align:center;">14</div>
<div class="t" style="top:905px;font-size:23.75px;line-height:31px;left:263.30px;">Rafael Betzler</div>
<div class="t" style="top:905px;font-size:23.75px;line-height:31px;left:570.50px;width:72.00px;text-align:center;">9</div>
<div class="t" style="top:905px;font-size:23.75px;line-height:31px;left:642.50px;width:93.00px;text-align:center;">20,0</div>
<div class="t" style="top:905px;font-size:23.75px;line-height:31px;left:735.50px;width:72.10px;text-align:center;">2</div>
<div class="t" style="top:905px;font-size:23.75px;line-height:31px;left:877.30px;width:93.20px;text-align:center;">0,0</div>
<div class="t" style="top:905px;font-size:23.75px;line-height:31px;left:1042.40px;width:63.90px;text-align:center;">14</div>
<div class="t" style="top:905px;font-size:23.75px;line-height:31px;left:1106.30px;width:93.00px;text-align:center;">18,8</div>
<div class="t" style="top:905px;font-size:23.75px;line-height:31px;left:1199.30px;width:72.15px;text-align:center;">2</div>
<div class="t" style="top:905px;font-size:23.75px;line-height:31px;left:1341.50px;width:92.70px;text-align:center;">0,0</div>
<div class="t" style="top:905px;font-size:23.75px;line-height:31px;left:1592.70px;width:88.90px;text-align:center;">0,0</div>
<div class="t" style="top:905px;font-size:23.75px;line-height:31px;left:1874.90px;width:166.90px;text-align:center;">19,4</div>
<div class="t" style="top:937px;font-size:23.75px;line-height:31px;left:150.50px;width:108.95px;text-align:center;">15</div>
<div class="t" style="top:937px;font-size:23.75px;line-height:31px;left:263.30px;">Korbinian Peters</div>
<div class="t" style="top:937px;font-size:23.75px;line-height:31px;left:642.50px;width:93.00px;text-align:center;">0,0</div>
<div class="t" style="top:937px;font-size:23.75px;line-height:31px;left:877.30px;width:93.20px;text-align:center;">0,0</div>
<div class="t" style="top:937px;font-size:23.75px;line-height:31px;left:1042.40px;width:63.90px;text-align:center;">12</div>
<div class="t" style="top:937px;font-size:23.75px;line-height:31px;left:1106.30px;width:93.00px;text-align:center;">31,3</div>
<div class="t" style="top:937px;font-size:23.75px;line-height:31px;left:1199.30px;width:72.15px;text-align:center;">2</div>
<div class="t" style="top:937px;font-size:23.75px;line-height:31px;left:1341.50px;width:92.70px;text-align:center;">0,0</div>
<div class="t" style="top:937px;font-size:23.75px;line-height:31px;left:1592.70px;width:88.90px;text-align:center;">0,0</div>
<div class="t" style="top:937px;font-size:23.75px;line-height:31px;left:1874.90px;width:166.90px;text-align:center;">15,6</div>
<div class="t" style="top:969px;font-size:23.75px;line-height:31px;left:150.50px;width:108.95px;text-align:center;">16</div>
<div class="t" style="top:969px;font-size:23.75px;line-height:31px;left:263.30px;">Xaver Stephl</div>
<div class="t" style="top:969px;font-size:23.75px;line-height:31px;left:642.50px;width:93.00px;text-align:center;">0,0</div>
<div class="t" style="top:969px;font-size:23.75px;line-height:31px;left:877.30px;width:93.20px;text-align:center;">0,0</div>
<div class="t" style="top:969px;font-size:23.75px;line-height:31px;left:1042.40px;width:63.90px;text-align:center;">13</div>
<div class="t" style="top:969px;font-size:23.75px;line-height:31px;left:1106.30px;width:93.00px;text-align:center;">25,0</div>
<div class="t" style="top:969px;font-size:23.75px;line-height:31px;left:1199.30px;width:72.15px;text-align:center;">2</div>
<div class="t" style="top:969px;font-size:23.75px;line-height:31px;left:1341.50px;width:92.70px;text-align:center;">0,0</div>
<div class="t" style="top:969px;font-size:23.75px;line-height:31px;left:1592.70px;width:88.90px;text-align:center;">0,0</div>
<div class="t" style="top:969px;font-size:23.75px;line-height:31px;left:1874.90px;width:166.90px;text-align:center;">12,5</div>
<div class="t" style="top:1002px;font-size:23.75px;line-height:31px;left:150.50px;width:108.95px;text-align:center;">17</div>
<div class="t" style="top:1002px;font-size:23.75px;line-height:31px;left:263.30px;">Florian Lex</div>
<div class="t" style="top:1002px;font-size:23.75px;line-height:31px;left:642.50px;width:93.00px;text-align:center;">0,0</div>
<div class="t" style="top:1002px;font-size:23.75px;line-height:31px;left:807.60px;width:69.70px;text-align:center;">8</div>
<div class="t" style="top:1002px;font-size:23.75px;line-height:31px;left:877.30px;width:93.20px;text-align:center;">22,2</div>
<div class="t" style="top:1002px;font-size:23.75px;line-height:31px;left:970.50px;width:71.90px;text-align:center;">2</div>
<div class="t" style="top:1002px;font-size:23.75px;line-height:31px;left:1106.30px;width:93.00px;text-align:center;">0,0</div>
<div class="t" style="top:1002px;font-size:23.75px;line-height:31px;left:1341.50px;width:92.70px;text-align:center;">0,0</div>
<div class="t" style="top:1002px;font-size:23.75px;line-height:31px;left:1592.70px;width:88.90px;text-align:center;">0,0</div>
<div class="t" style="top:1002px;font-size:23.75px;line-height:31px;left:1874.90px;width:166.90px;text-align:center;">11,1</div>
<div class="t" style="top:1034px;font-size:23.75px;line-height:31px;left:150.50px;width:108.95px;text-align:center;">18</div>
<div class="t" style="top:1034px;font-size:23.75px;line-height:31px;left:263.30px;">Roland Strasser</div>
<div class="t" style="top:1034px;font-size:23.75px;line-height:31px;left:642.50px;width:93.00px;text-align:center;">0,0</div>
<div class="t" style="top:1034px;font-size:23.75px;line-height:31px;left:877.30px;width:93.20px;text-align:center;">0,0</div>
<div class="t" style="top:1034px;font-size:23.75px;line-height:31px;left:1042.40px;width:63.90px;text-align:center;">15</div>
<div class="t" style="top:1034px;font-size:23.75px;line-height:31px;left:1106.30px;width:93.00px;text-align:center;">12,5</div>
<div class="t" style="top:1034px;font-size:23.75px;line-height:31px;left:1199.30px;width:72.15px;text-align:center;">2</div>
<div class="t" style="top:1034px;font-size:23.75px;line-height:31px;left:1341.50px;width:92.70px;text-align:center;">0,0</div>
<div class="t" style="top:1034px;font-size:23.75px;line-height:31px;left:1592.70px;width:88.90px;text-align:center;">0,0</div>
<div class="t" style="top:1034px;font-size:23.75px;line-height:31px;left:1874.90px;width:166.90px;text-align:center;">6,3</div>
<div class="t" style="top:1066px;font-size:23.75px;line-height:31px;left:150.50px;width:108.95px;text-align:center;">19</div>
<div class="t" style="top:1066px;font-size:23.75px;line-height:31px;left:263.30px;">J&ouml;rg Hofmann</div>
<div class="t" style="top:1066px;font-size:23.75px;line-height:31px;left:570.50px;width:72.00px;text-align:center;">10</div>
<div class="t" style="top:1066px;font-size:23.75px;line-height:31px;left:642.50px;width:93.00px;text-align:center;">10,0</div>
<div class="t" style="top:1066px;font-size:23.75px;line-height:31px;left:735.50px;width:72.10px;text-align:center;">2</div>
<div class="t" style="top:1066px;font-size:23.75px;line-height:31px;left:877.30px;width:93.20px;text-align:center;">0,0</div>
<div class="t" style="top:1066px;font-size:23.75px;line-height:31px;left:1106.30px;width:93.00px;text-align:center;">0,0</div>
<div class="t" style="top:1066px;font-size:23.75px;line-height:31px;left:1341.50px;width:92.70px;text-align:center;">0,0</div>
<div class="t" style="top:1066px;font-size:23.75px;line-height:31px;left:1592.70px;width:88.90px;text-align:center;">0,0</div>
<div class="t" style="top:1066px;font-size:23.75px;line-height:31px;left:1874.90px;width:166.90px;text-align:center;">5,0</div>
<div class="t" style="top:1099px;font-size:23.75px;line-height:31px;left:150.50px;width:108.95px;text-align:center;">20</div>
<div class="t" style="top:1099px;font-size:23.75px;line-height:31px;left:263.30px;">Andreas Gebauer jun.</div>
<div class="t" style="top:1099px;font-size:23.75px;line-height:31px;left:642.50px;width:93.00px;text-align:center;">0,0</div>
<div class="t" style="top:1099px;font-size:23.75px;line-height:31px;left:877.30px;width:93.20px;text-align:center;">0,0</div>
<div class="t" style="top:1099px;font-size:23.75px;line-height:31px;left:1042.40px;width:63.90px;text-align:center;">16</div>
<div class="t" style="top:1099px;font-size:23.75px;line-height:31px;left:1106.30px;width:93.00px;text-align:center;">6,3</div>
<div class="t" style="top:1099px;font-size:23.75px;line-height:31px;left:1199.30px;width:72.15px;text-align:center;">2</div>
<div class="t" style="top:1099px;font-size:23.75px;line-height:31px;left:1341.50px;width:92.70px;text-align:center;">0,0</div>
<div class="t" style="top:1099px;font-size:23.75px;line-height:31px;left:1592.70px;width:88.90px;text-align:center;">0,0</div>
<div class="t" style="top:1099px;font-size:23.75px;line-height:31px;left:1874.90px;width:166.90px;text-align:center;">3,1</div>
<div class="t" style="top:1162px;font-size:26.0px;line-height:34px;left:154.80px;">Auswertung (m&ouml;glichst &auml;hnlich wie DSV Ranglistenordnung):</div>
<div class="t" style="top:1194px;font-size:26.0px;line-height:34px;left:154.80px;">Punkte = Wertungsfaktor x 100 x ((Anz. gestartete Boote + 1 &ndash; Platz) / Anz. gestartete Boote))</div>
<div class="t" style="top:1226px;font-size:26.0px;line-height:34px;left:154.80px;">Anzahl der Wertungen: bei 2 und mehr Wettfahrten 2; bei einer Wettfahrt 1</div>
<div class="t" style="top:1259px;font-size:26.0px;line-height:34px;left:154.80px;">Die 4 besten Wertungen werden gewertet</div>
</div>
</body></html>
